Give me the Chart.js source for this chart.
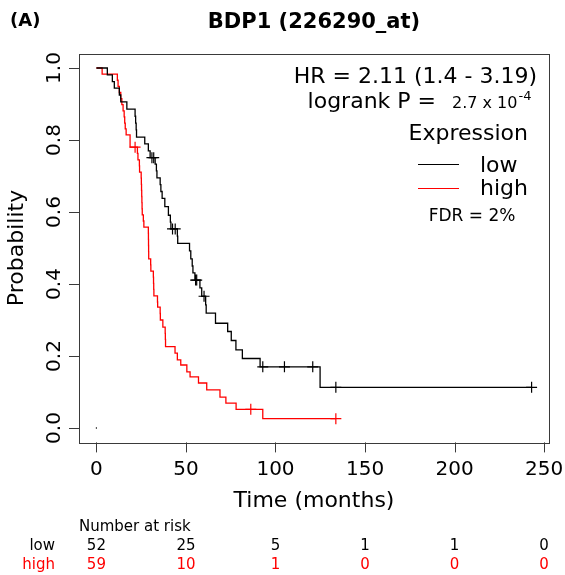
<!DOCTYPE html>
<html>
<head>
<meta charset="utf-8">
<script src="https://cdn.jsdelivr.net/npm/chart.js@4.4.1/dist/chart.umd.min.js"></script>
<style>
  html, body { margin: 0; padding: 0; background: #fff; }
  canvas { display: block; }
</style>
</head>
<body>
<canvas id="km" width="565" height="575"></canvas>
<script>
// Kaplan-Meier steps, low expression group (months, survival)
const lowTime = [0, 6.1, 8.9, 10.0, 12.8, 13.6, 17.0, 21.6, 21.9, 22.2, 22.4, 27.0, 29.0, 30.0,
  32.8, 33.5, 33.8, 35.6, 36.0, 36.7, 38.2, 40.2, 41.3, 41.6, 45.2, 45.4, 52.0, 52.7, 53.5, 53.9,
  55.0, 57.8, 58.8, 61.0, 61.3, 66.5, 73.3, 75.3, 77.9, 81.5, 91.4, 124.9, 243];
const lowSurv = [1, 0.981, 0.962, 0.944, 0.925, 0.906, 0.886, 0.866, 0.847, 0.828, 0.808, 0.789, 0.770, 0.751,
  0.733, 0.714, 0.695, 0.676, 0.657, 0.638, 0.615, 0.591, 0.572, 0.553, 0.533, 0.513, 0.492, 0.470, 0.450, 0.431,
  0.411, 0.389, 0.366, 0.342, 0.319, 0.291, 0.268, 0.243, 0.217, 0.193, 0.170, 0.113, 0.113];
const lowCensTime = [31.0, 32.0, 42.5, 44.0, 55.4, 56.0, 60.1, 92.9, 105.0, 120.8, 133.7, 243];
const lowCensSurv = [0.751, 0.751, 0.553, 0.553, 0.411, 0.411, 0.366, 0.170, 0.170, 0.170, 0.113, 0.113];

// high expression group
const highTime = [0, 3.2, 11.7, 12.1, 12.8, 13.6, 14.2, 14.9, 15.5, 15.8, 16.1, 16.6, 18.8,
  22.9, 23.2, 24.0, 24.1, 25.0, 25.1, 25.2, 25.3, 25.4, 25.5, 25.6, 26.2, 26.5,
  29.0, 29.05, 29.1, 29.15, 29.2, 30.3, 30.4, 31.8, 31.9, 32.0, 32.1, 34.1, 34.2, 35.6, 35.7,
  37.1, 38.4, 38.5, 38.6, 43.9, 45.2, 47.1, 50.5, 52.3, 57.0, 61.6, 69.0, 72.3, 78.0, 92.9, 133.7];
const highSurv = [1, 0.983, 0.966, 0.949, 0.932, 0.915, 0.898, 0.881, 0.864, 0.847, 0.831, 0.814, 0.780,
  0.763, 0.745, 0.728, 0.711, 0.694, 0.677, 0.660, 0.643, 0.626, 0.609, 0.592, 0.575, 0.558,
  0.541, 0.524, 0.507, 0.490, 0.470, 0.453, 0.436, 0.419, 0.402, 0.385, 0.367, 0.350, 0.336, 0.318, 0.300,
  0.280, 0.263, 0.246, 0.226, 0.208, 0.189, 0.175, 0.156, 0.142, 0.125, 0.106, 0.086, 0.069, 0.052, 0.026, 0.026];
const highCensTime = [21.6, 86.2, 133.7];
const highCensSurv = [0.780, 0.052, 0.026];

// axes and number-at-risk table
const xTicks = [0, 50, 100, 150, 200, 250];
const yTicks = [0, 0.2, 0.4, 0.6, 0.8, 1.0];
const riskLow = [52, 25, 5, 1, 1, 0];
const riskHigh = [59, 10, 1, 0, 0, 0];

const FONT = '"DejaVu Sans", sans-serif';
const RED = '#ff0000';

const pts = (xs, ys) => xs.map((t, i) => ({ x: t, y: ys[i] }));

// box, R-style axes, titles, legend text and risk table
const decor = {
  id: 'kmDecor',
  afterDraw(chart) {
    const { ctx, chartArea: a, scales: { x, y } } = chart;
    ctx.save();
    ctx.strokeStyle = '#3a3a3a';
    ctx.lineWidth = 1;
    ctx.strokeRect(Math.round(a.left) + 0.5, Math.round(a.top) + 0.5,
      Math.round(a.right - a.left), Math.round(a.bottom - a.top));

    ctx.fillStyle = '#000';
    ctx.beginPath();
    xTicks.forEach(v => {
      const px = Math.round(x.getPixelForValue(v)) + 0.5;
      ctx.moveTo(px, a.bottom);
      ctx.lineTo(px, a.bottom + 10);
    });
    yTicks.forEach(v => {
      const py = Math.round(y.getPixelForValue(v)) + 0.5;
      ctx.moveTo(a.left, py);
      ctx.lineTo(a.left - 10, py);
    });
    ctx.stroke();

    ctx.font = '20px ' + FONT;
    ctx.textAlign = 'center';
    ctx.textBaseline = 'alphabetic';
    xTicks.forEach(v => ctx.fillText(String(v), x.getPixelForValue(v), 475));
    yTicks.forEach(v => {
      ctx.save();
      ctx.translate(60, y.getPixelForValue(v));
      ctx.rotate(-Math.PI / 2);
      ctx.fillText(v.toFixed(1), 0, 0);
      ctx.restore();
    });

    // axis titles
    ctx.font = '22px ' + FONT;
    ctx.fillText('Time (months)', (a.left + a.right) / 2, 507);
    ctx.save();
    ctx.translate(23, (a.top + a.bottom) / 2);
    ctx.rotate(-Math.PI / 2);
    ctx.fillText('Probability', 0, 0);
    ctx.restore();

    // main title and panel letter
    ctx.font = 'bold 21px ' + FONT;
    ctx.fillText('BDP1 (226290_at)', (a.left + a.right) / 2, 28);
    ctx.textAlign = 'left';
    ctx.font = 'bold 18px ' + FONT;
    ctx.fillText('(A)', 10, 26);

    // statistics in the top right corner
    ctx.textAlign = 'right';
    ctx.font = '22px ' + FONT;
    ctx.fillText('HR = 2.11 (1.4 - 3.19)', 537, 83);
    ctx.fillText('logrank P =', 436, 108);
    ctx.fillText('Expression', 528, 140);
    ctx.textAlign = 'left';
    ctx.font = '16px ' + FONT;
    ctx.fillText('2.7 x 10', 452, 108);
    const baseW = ctx.measureText('2.7 x 10').width;
    ctx.font = '13px ' + FONT;
    ctx.fillText('-4', 452 + baseW + 1, 100);

    // legend
    ctx.font = '22px ' + FONT;
    ctx.lineWidth = 1;
    ctx.strokeStyle = '#000';
    ctx.beginPath(); ctx.moveTo(418, 164.5); ctx.lineTo(459, 164.5); ctx.stroke();
    ctx.strokeStyle = RED;
    ctx.beginPath(); ctx.moveTo(418, 188.5); ctx.lineTo(459, 188.5); ctx.stroke();
    ctx.fillText('low', 480, 172);
    ctx.fillText('high', 480, 195);
    ctx.textAlign = 'center';
    ctx.font = '17px ' + FONT;
    ctx.fillText('FDR = 2%', 472, 221);

    // number at risk
    ctx.font = '15px ' + FONT;
    ctx.textAlign = 'left';
    ctx.fillText('Number at risk', 79, 531);
    ctx.textAlign = 'right';
    ctx.fillText('low', 55, 550);
    ctx.fillStyle = RED;
    ctx.fillText('high', 55, 569);
    ctx.textAlign = 'center';
    xTicks.forEach((v, i) => {
      const px = x.getPixelForValue(v);
      ctx.fillStyle = '#000';
      ctx.fillText(String(riskLow[i]), px, 550);
      ctx.fillStyle = RED;
      ctx.fillText(String(riskHigh[i]), px, 569);
    });
    ctx.restore();
  }
};

const ctx = document.getElementById('km').getContext('2d');
new Chart(ctx, {
  type: 'line',
  data: {
    datasets: [
      {
        label: 'low',
        data: pts(lowTime, lowSurv),
        stepped: true,
        borderColor: '#000',
        borderWidth: 1.3,
        pointRadius: 0,
        fill: false
      },
      {
        label: 'high',
        data: pts(highTime, highSurv),
        stepped: true,
        borderColor: RED,
        borderWidth: 1.3,
        pointRadius: 0,
        fill: false
      },
      {
        type: 'scatter',
        label: 'low censored',
        data: pts(lowCensTime, lowCensSurv),
        pointStyle: 'cross',
        pointRadius: 5.5,
        pointBorderWidth: 1.2,
        borderColor: '#000',
        showLine: false
      },
      {
        type: 'scatter',
        label: 'high censored',
        data: pts(highCensTime, highCensSurv),
        pointStyle: 'cross',
        pointRadius: 5.5,
        pointBorderWidth: 1.2,
        borderColor: RED,
        showLine: false
      },
      {
        type: 'scatter',
        label: 'origin',
        data: [{ x: 0, y: 0 }],
        pointStyle: 'circle',
        pointRadius: 0.7,
        backgroundColor: '#000',
        borderWidth: 0
      }
    ]
  },
  options: {
    responsive: false,
    animation: false,
    events: [],
    layout: {
      padding: { left: 79, top: 53.6, right: 16, bottom: 132.6 }
    },
    scales: {
      x: { type: 'linear', min: -9.72, max: 252.72, display: false },
      y: { type: 'linear', min: -0.04, max: 1.04, display: false }
    },
    plugins: {
      legend: { display: false },
      tooltip: { enabled: false },
      title: { display: false }
    }
  },
  plugins: [decor]
});
</script>
</body>
</html>
